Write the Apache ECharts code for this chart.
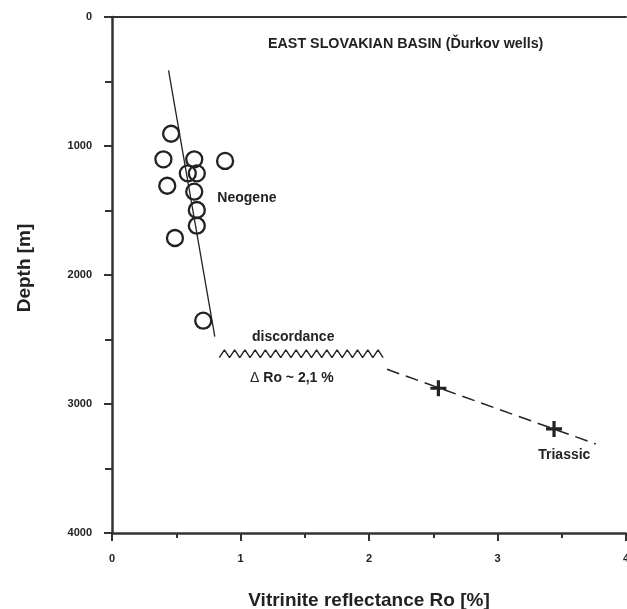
<!DOCTYPE html>
<html>
<head>
<meta charset="utf-8">
<script src="https://cdn.jsdelivr.net/npm/echarts@6/dist/echarts.min.js"></script>
<style>
  html, body { margin: 0; padding: 0; background: #fff; }
  #chart { width: 627px; height: 609px; }
</style>
</head>
<body>
<div id="chart"></div>
<script>
// Neogene samples (open circles)
const neogeneRo = [0.46, 0.40, 0.64, 0.88, 0.59, 0.66, 0.43, 0.64, 0.66, 0.66, 0.49, 0.71];
const neogeneDepth = [905, 1103, 1103, 1116, 1212, 1212, 1308, 1354, 1496, 1618, 1713, 2354];

// Triassic samples (crosses)
const triassicRo = [2.54, 3.44];
const triassicDepth = [2878, 3193];

// trend lines
const neogeneTrendRo = [0.44, 0.80];
const neogeneTrendDepth = [413, 2478];
const triassicTrendRo = [2.14, 3.765];
const triassicTrendDepth = [2731, 3310];

// discordance zigzag: ends and band
const discordanceRo = [0.835, 2.11];
const discordanceDepth = [2580, 2640];
const discordanceTeeth = 16;

// annotations
const noteText = ['Neogene', 'discordance', '{d|\u0394} Ro ~ 2,1 %', 'Triassic'];
const noteRo = [1.05, 1.41, 1.40, 3.52];
const noteDepth = [1405, 2483, 2796, 3395];

const xTicks = [0, 1, 2, 3, 4];
const yTicks = [0, 1000, 2000, 3000, 4000];

const INK = '#222';
const FONT = 'Liberation Sans, Arial, sans-serif';

const chart = echarts.init(document.getElementById('chart'));

// zigzag vertices between the two ends (low - high - low ...)
const zigzag = [];
for (let i = 0; i <= discordanceTeeth * 2; i++) {
    const x = discordanceRo[0] + (discordanceRo[1] - discordanceRo[0]) * i / (discordanceTeeth * 2);
    zigzag.push([x, i % 2 === 0 ? discordanceDepth[1] : discordanceDepth[0]]);
}

const pair = (xs, ys) => xs.map((x, i) => [x, ys[i]]);

const plusPath = 'path://M-1.6,-8H1.6V-1.6H8V1.6H1.6V8H-1.6V1.6H-8V-1.6H-1.6Z';

const option = {
    animation: false,
    backgroundColor: '#fff',
    title: {
        text: 'EAST SLOVAKIAN BASIN (\u010Eurkov wells)',
        left: 263,
        top: 32,
        textStyle: { fontFamily: FONT, fontSize: 14.3, fontWeight: 'bold', color: INK }
    },
    grid: { left: 112, top: 17, right: 1, bottom: 76, outerBoundsMode: 'none' },
    xAxis: [{
        type: 'value',
        min: 0,
        max: 4,
        interval: 1,
        position: 'bottom',
        name: 'Vitrinite reflectance Ro [%]',
        nameLocation: 'middle',
        nameGap: 58,
        nameTextStyle: { fontFamily: FONT, fontSize: 19, fontWeight: 'bold', color: INK },
        axisLine: { onZero: false, lineStyle: { color: '#333', width: 2.5 } },
        axisTick: { inside: false, length: 8, lineStyle: { color: '#333', width: 2 } },
        minorTick: { show: true, splitNumber: 2, length: 5, lineStyle: { color: '#333', width: 2 } },
        splitLine: { show: false },
        axisLabel: {
            margin: 20,
            fontFamily: FONT, fontSize: 11, fontWeight: 'bold', color: INK,
            formatter: v => xTicks.includes(v) ? String(v) : ''
        }
    }, {
        type: 'value',
        min: 0,
        max: 4,
        position: 'top',
        axisLine: { onZero: false, lineStyle: { color: '#333', width: 2 } },
        axisTick: { show: false },
        minorTick: { show: false },
        axisLabel: { show: false },
        splitLine: { show: false }
    }],
    yAxis: {
        type: 'value',
        min: 0,
        max: 4000,
        interval: 1000,
        inverse: true,
        name: 'Depth [m]',
        nameLocation: 'middle',
        nameGap: 78,
        nameTextStyle: {
            fontFamily: FONT, fontSize: 19, fontWeight: 'bold', color: INK,
            padding: [0, 0, 0, 14]
        },
        axisLine: { onZero: false, lineStyle: { color: '#333', width: 2.5 } },
        axisTick: { inside: false, length: 8, lineStyle: { color: '#333', width: 2 } },
        minorTick: { show: true, splitNumber: 2, length: 7, lineStyle: { color: '#333', width: 2 } },
        splitLine: { show: false },
        axisLabel: {
            margin: 20,
            fontFamily: FONT, fontSize: 11, fontWeight: 'bold', color: INK,
            formatter: v => yTicks.includes(v) ? String(v) : ''
        }
    },
    series: [
        {
            type: 'line',
            data: pair(neogeneTrendRo, neogeneTrendDepth),
            symbol: 'none',
            lineStyle: { color: INK, width: 1.3 },
            z: 2
        },
        {
            type: 'line',
            data: pair(triassicTrendRo, triassicTrendDepth),
            symbol: 'none',
            lineStyle: { color: INK, width: 1.5, type: [13, 7] },
            z: 2
        },
        {
            type: 'line',
            data: zigzag,
            symbol: 'none',
            lineStyle: { color: INK, width: 1.4 },
            z: 2
        },
        {
            type: 'scatter',
            data: pair(neogeneRo, neogeneDepth),
            symbol: 'circle',
            symbolSize: 16,
            itemStyle: { color: 'rgba(0,0,0,0)', borderColor: INK, borderWidth: 2.3, opacity: 1 },
            z: 3
        },
        {
            type: 'scatter',
            data: pair(triassicRo, triassicDepth),
            symbol: plusPath,
            symbolSize: 16,
            itemStyle: { color: INK, opacity: 1 },
            z: 3
        },
        {
            type: 'scatter',
            data: noteText.map((t, i) => ({ name: t, value: [noteRo[i], noteDepth[i]] })),
            symbolSize: 0,
            silent: true,
            itemStyle: { opacity: 1 },
            label: {
                show: true,
                position: 'inside',
                formatter: p => p.name,
                fontFamily: FONT,
                fontSize: 14,
                fontWeight: 'bold',
                color: INK,
                rich: {
                    d: { fontFamily: FONT, fontSize: 14, fontWeight: 'normal', color: INK }
                }
            },
            z: 4
        }
    ]
};

chart.setOption(option);
</script>
</body>
</html>
